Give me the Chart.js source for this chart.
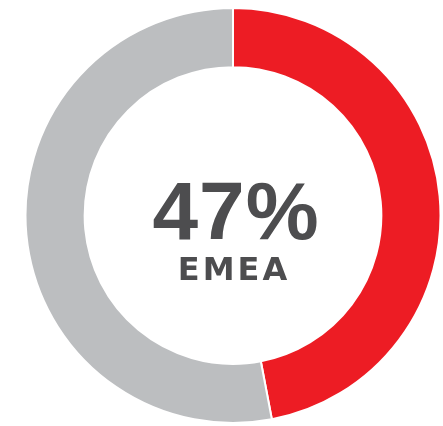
<!DOCTYPE html>
<html>
<head>
<meta charset="utf-8">
<script src="https://cdn.jsdelivr.net/npm/chart.js@4"></script>
<style>
  html, body { margin: 0; padding: 0; background: #fff; }
  #wrap { width: 443px; height: 426px; position: relative; }
</style>
</head>
<body>
<div id="wrap"><canvas id="chart" width="443" height="426"></canvas></div>
<script>
const labels = ['EMEA', 'Rest of world'];
const values = [47, 53];
const colors = ['#ED1C24', '#BCBEC0'];

// center label drawn from the first value
const centerText = {
    id: 'centerText',
    afterDraw(chart) {
        const arc = chart.getDatasetMeta(0).data[0];
        const ctx = chart.ctx;
        const x = arc.x, y = arc.y;
        const total = values.reduce((a, b) => a + b, 0);
        const pct = Math.round(values[0] / total * 100) + '%';
        ctx.save();
        ctx.fillStyle = '#4D4D4F';
        ctx.textAlign = 'center';
        ctx.textBaseline = 'alphabetic';
        ctx.font = 'bold 82px "Liberation Sans", Arial, sans-serif';
        ctx.letterSpacing = '1px';
        ctx.fillText(pct, x + 3, y + 23);
        ctx.font = 'bold 32px "DejaVu Sans", sans-serif';
        ctx.letterSpacing = '3px';
        ctx.fillText(labels[0], x + 1, y + 64);
        ctx.restore();
    }
};

const ctx = document.getElementById('chart').getContext('2d');
const myChart = new Chart(ctx, {
    type: 'doughnut',
    data: {
        labels: labels,
        datasets: [{
            data: values,
            backgroundColor: colors,
            borderColor: '#ffffff',
            borderWidth: 2
        }]
    },
    options: {
        responsive: false,
        animation: false,
        cutout: '71.5%',
        layout: { padding: { left: 24, right: 1, top: 7, bottom: 2 } },
        plugins: {
            legend: { display: false },
            tooltip: { enabled: false }
        }
    },
    plugins: [centerText]
});
</script>
</body>
</html>
